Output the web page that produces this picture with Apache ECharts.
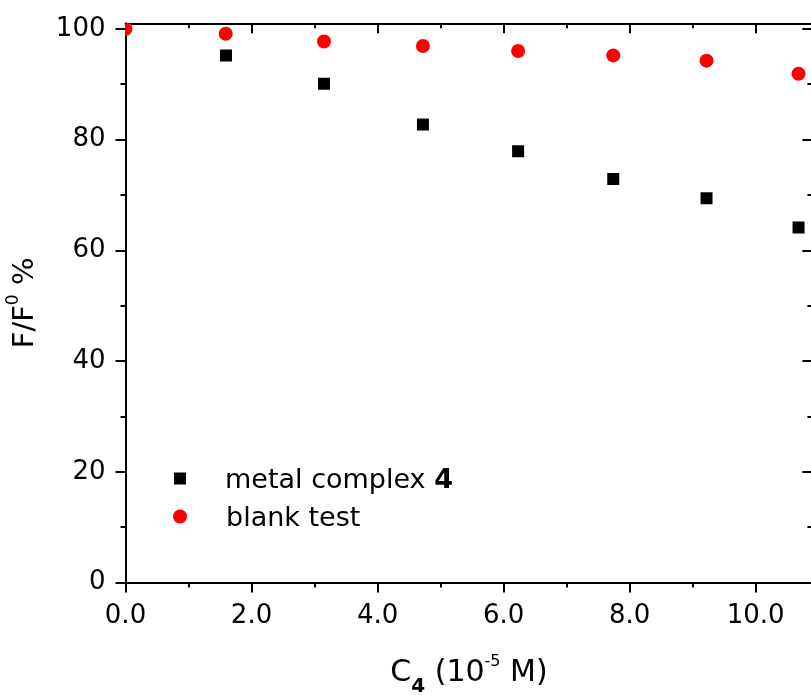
<!DOCTYPE html>
<html><head><meta charset="utf-8">
<script src="https://cdn.jsdelivr.net/npm/echarts@6/dist/echarts.min.js"></script>
<style>html,body{margin:0;padding:0;background:#fff}#c{width:811px;height:695px}</style>
</head><body><div id="c"></div>
<script>
// ---- data ----
const concMetal = [1.595, 3.15, 4.72, 6.23, 7.74, 9.22, 10.68];
const ffMetal   = [95.2, 90.1, 82.7, 77.9, 72.9, 69.4, 64.1];
const concBlank = [0, 1.59, 3.15, 4.72, 6.23, 7.74, 9.22, 10.68];
const ffBlank   = [100, 99.1, 97.7, 96.9, 96.0, 95.2, 94.25, 91.9];
const xMajorTicks = [0, 2, 4, 6, 8, 10];
const xMinorTicks = [1, 3, 5, 7, 9];
const yMajorTicks = [0, 20, 40, 60, 80, 100];
const yMinorTicks = [10, 30, 50, 70, 90];
const seriesNames = ['metal complex 4', 'blank test'];

const FONT = '"DejaVu Sans", sans-serif';
const X_MIN = 0, X_MAX = 10.9, Y_MIN = 0, Y_MAX = 101;

function mkAxis(dim, position, ticks, len, inside, showLine, labels, extra) {
  const ax = {
    type: 'value', position: position,
    min: dim === 'x' ? X_MIN : Y_MIN, max: dim === 'x' ? X_MAX : Y_MAX,
    axisLine: { show: showLine, onZero: false, lineStyle: { color: '#000', width: 2 } },
    axisTick: { show: true, inside: inside, length: len, customValues: ticks,
                lineStyle: { color: '#000', width: 2 } },
    axisLabel: labels ? Object.assign({ show: true, customValues: ticks, color: '#000',
                fontFamily: FONT, fontSize: 26 }, labels) : { show: false },
    splitLine: { show: false }, minorTick: { show: false }, splitArea: { show: false }
  };
  return Object.assign(ax, extra || {});
}

const xAxes = [
  mkAxis('x', 'bottom', xMajorTicks, 10, false, true,
    { margin: 21, formatter: v => v.toFixed(1) },
    { name: 'C{sub|4} (10{sup|-5} M)', nameLocation: 'middle', nameGap: 68,
      nameTextStyle: { color: '#000', fontFamily: FONT, fontSize: 30, lineHeight: 46,
        rich: { sub: { fontFamily: FONT, fontSize: 20, fontWeight: 'bold', verticalAlign: 'bottom', color: '#000' },
                sup: { fontFamily: FONT, fontSize: 16, verticalAlign: 'top', padding: [3, 0, 0, 0], color: '#000' } } } }),
  mkAxis('x', 'bottom', xMinorTicks, 5, false, false, null),
  mkAxis('x', 'top', xMajorTicks, 10, true, true, null),
  mkAxis('x', 'top', xMinorTicks, 5, true, false, null)
];
const yAxes = [
  mkAxis('y', 'left', yMajorTicks, 10, false, true,
    { margin: 20, formatter: v => String(v) },
    { name: 'F/F{sup|0} %', nameLocation: 'middle', nameGap: 74, nameRotate: 90,
      nameTextStyle: { color: '#000', fontFamily: FONT, fontSize: 29, lineHeight: 40,
        rich: { sup: { fontFamily: FONT, fontSize: 17, verticalAlign: 'top', color: '#000' } } } }),
  mkAxis('y', 'left', yMinorTicks, 5, false, false, null),
  mkAxis('y', 'right', yMajorTicks, 10, true, true, null),
  mkAxis('y', 'right', yMinorTicks, 5, true, false, null)
];

function rectItem(params, api) {
  const c = api.coord([api.value(0), api.value(1)]);
  return { type: 'rect', shape: { x: c[0] - 6, y: c[1] - 6, width: 12, height: 12 }, style: { fill: '#000000' } };
}
function circleItem(params, api) {
  const c = api.coord([api.value(0), api.value(1)]);
  return { type: 'circle', shape: { cx: c[0], cy: c[1], r: 7 }, style: { fill: '#ff0000' } };
}

const legendText = { color: '#000', fontFamily: FONT, fontSize: 27,
  rich: { s: { width: 34 }, t: { fontFamily: FONT, fontSize: 27, color: '#000', padding: [4, 0, 0, 0] },
          b: { fontFamily: FONT, fontSize: 27, fontWeight: 'bold', color: '#000', padding: [4, 0, 0, 0] } } };

const option = {
  animation: false,
  backgroundColor: '#ffffff',
  grid: { left: 125.5, top: 23.3, right: -1.4, bottom: 112.5, outerBoundsMode: 'none', containLabel: false },
  xAxis: xAxes,
  yAxis: yAxes,
  legend: [
    { data: [{ name: seriesNames[0], icon: 'rect' }], orient: 'vertical', left: 174, top: 465, padding: 0,
      itemWidth: 12, itemHeight: 12, selectedMode: false,
      formatter: n => '{s|}{t|' + n.replace(/ 4$/, ' ') + '}{b|4}', textStyle: legendText },
    { data: [{ name: seriesNames[1], icon: 'circle' }], orient: 'vertical', left: 173, top: 503, padding: 0,
      itemWidth: 14, itemHeight: 14, selectedMode: false,
      formatter: n => '{s|}{t|' + n + '}', textStyle: legendText }
  ],
  series: [
    { type: 'custom', name: seriesNames[0], xAxisIndex: 0, yAxisIndex: 0, clip: true,
      itemStyle: { color: '#000000' }, renderItem: rectItem,
      data: concMetal.map((x, i) => [x, ffMetal[i]]) },
    { type: 'custom', name: seriesNames[1], xAxisIndex: 0, yAxisIndex: 0, clip: true,
      itemStyle: { color: '#ff0000' }, renderItem: circleItem,
      data: concBlank.map((x, i) => [x, ffBlank[i]]) }
  ]
};
const chart = echarts.init(document.getElementById('c'), null, { renderer: 'canvas' });
chart.setOption(option);
</script>
</body></html>
